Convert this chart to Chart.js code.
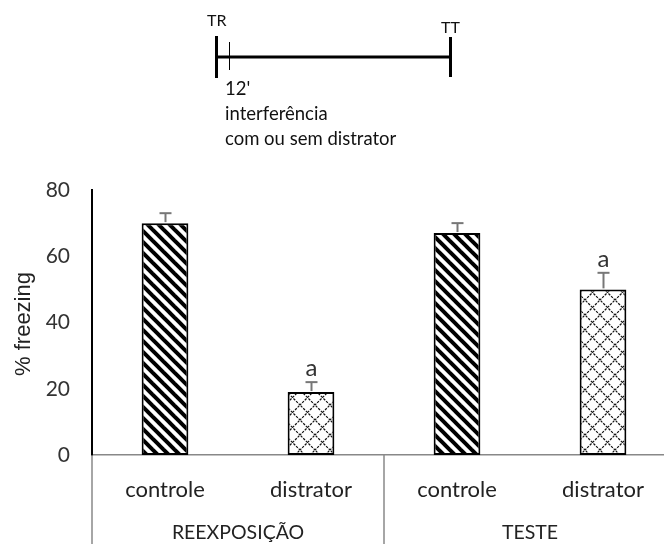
<!DOCTYPE html>
<html>
<head>
<meta charset="utf-8">
<script src="https://cdn.jsdelivr.net/npm/chart.js@4"></script>
<style>
  html, body { margin: 0; padding: 0; background: #fff; overflow: hidden; width: 664px; height: 544px; }
  canvas { display: block; }
</style>
</head>
<body>
<canvas id="c" width="676" height="544"></canvas>
<script>
const categories = ['controle', 'distrator', 'controle', 'distrator'];
const groups = ['REEXPOSIÇÃO', 'TESTE'];
const freezing = [70, 19, 67, 50];
const sem = [3, 3, 3, 5];
const significance = ['', 'a', '', 'a'];
const yTicks = [0, 20, 40, 60, 80];
const patternKinds = ['stripes', 'cross', 'stripes', 'cross'];

const FONT = 'Lato, "Open Sans", sans-serif';

function makeStripes() {
  const s = 11;
  const c = document.createElement('canvas');
  c.width = s; c.height = s;
  const g = c.getContext('2d');
  g.fillStyle = '#fff'; g.fillRect(0, 0, s, s);
  g.strokeStyle = '#000'; g.lineWidth = 4;
  for (let k = -1; k <= 1; k++) {
    g.beginPath(); g.moveTo(k * s - 2, -2); g.lineTo(k * s + s + 2, s + 2); g.stroke();
  }
  return g.createPattern(c, 'repeat');
}
function makeCross() {
  const s = 15;
  const c = document.createElement('canvas');
  c.width = s; c.height = s;
  const g = c.getContext('2d');
  g.fillStyle = '#fff'; g.fillRect(0, 0, s, s);
  g.strokeStyle = '#111'; g.lineWidth = 1.2;
  g.setLineDash([2.5, 1.2]);
  for (let k = -1; k <= 1; k++) {
    g.beginPath(); g.moveTo(k * s - 2, -2); g.lineTo(k * s + s + 2, s + 2); g.stroke();
    g.beginPath(); g.moveTo(k * s + s + 2, -2); g.lineTo(k * s - 2, s + 2); g.stroke();
  }
  return g.createPattern(c, 'repeat');
}
const stripes = makeStripes();
const cross = makeCross();
const fills = patternKinds.map(k => k === 'stripes' ? stripes : cross);

const overlay = {
  id: 'overlay',
  afterDatasetsDraw(chart) {
    const ctx = chart.ctx;
    const ys = chart.scales.y;
    const meta = chart.getDatasetMeta(0);
    ctx.save();
    ctx.strokeStyle = '#777'; ctx.lineWidth = 2;
    meta.data.forEach((bar, i) => {
      const x = Math.round(bar.x) + 0.5;
      const yb = ys.getPixelForValue(freezing[i]);
      const yt = ys.getPixelForValue(freezing[i] + sem[i]);
      ctx.beginPath(); ctx.moveTo(x, yb - 1); ctx.lineTo(x, yt); ctx.stroke();
      ctx.beginPath(); ctx.moveTo(x - 6, yt); ctx.lineTo(x + 6, yt); ctx.stroke();
      if (significance[i]) {
        ctx.fillStyle = '#333';
        ctx.font = '24px ' + FONT;
        ctx.textAlign = 'center'; ctx.textBaseline = 'alphabetic';
        ctx.fillText(significance[i], x, yt - 6);
      }
    });
    ctx.restore();
  },
  afterDraw(chart) {
    const ctx = chart.ctx;
    const ca = chart.chartArea;
    const xs = chart.scales.x;
    const H = chart.height;
    ctx.save();
    ctx.strokeStyle = '#888'; ctx.lineWidth = 1.5;
    const sep = [ca.left, (xs.getPixelForValue(1) + xs.getPixelForValue(2)) / 2, ca.right];
    sep.forEach(x => {
      ctx.beginPath(); ctx.moveTo(Math.round(x), ca.bottom); ctx.lineTo(Math.round(x), H); ctx.stroke();
    });
    ctx.fillStyle = '#222';
    ctx.font = '22px ' + FONT;
    ctx.textAlign = 'center'; ctx.textBaseline = 'middle';
    categories.forEach((c, i) => ctx.fillText(c, xs.getPixelForValue(i), 490));
    ctx.font = '19.5px ' + FONT;
    groups.forEach((g, j) => {
      const cx = (xs.getPixelForValue(2 * j) + xs.getPixelForValue(2 * j + 1)) / 2;
      ctx.fillText(g, cx, 533);
    });
    ctx.save();
    ctx.translate(24, 324);
    ctx.rotate(-Math.PI / 2);
    ctx.font = '22px "Liberation Sans", Arial, sans-serif';
    ctx.fillStyle = '#222';
    ctx.textAlign = 'center'; ctx.textBaseline = 'middle';
    ctx.fillText('% freezing', 0, 0);
    ctx.restore();
    // timeline diagram
    ctx.strokeStyle = '#000';
    ctx.lineWidth = 3;
    ctx.beginPath(); ctx.moveTo(216, 57); ctx.lineTo(451, 57); ctx.stroke();
    ctx.beginPath(); ctx.moveTo(216.5, 36); ctx.lineTo(216.5, 78); ctx.stroke();
    ctx.beginPath(); ctx.moveTo(450.5, 37); ctx.lineTo(450.5, 77); ctx.stroke();
    ctx.lineWidth = 1;
    ctx.beginPath(); ctx.moveTo(229.5, 42); ctx.lineTo(229.5, 70); ctx.stroke();
    ctx.fillStyle = '#111';
    ctx.font = '16px ' + FONT;
    ctx.textAlign = 'left'; ctx.textBaseline = 'middle';
    ctx.fillText('TR', 207, 21);
    ctx.fillText('TT', 441, 28);
    ctx.font = '18.5px ' + FONT;
    ctx.fillText("12'", 225, 89);
    ctx.fillText('interferência', 225, 114);
    ctx.fillText('com ou sem distrator', 225, 139);
    ctx.restore();
  }
};

new Chart(document.getElementById('c'), {
  type: 'bar',
  data: {
    labels: categories,
    datasets: [{
      data: freezing,
      backgroundColor: fills,
      borderColor: '#000',
      borderWidth: 2,
      borderSkipped: false,
      barPercentage: 0.32,
      categoryPercentage: 1
    }]
  },
  options: {
    responsive: false,
    animation: false,
    layout: { padding: { top: 190, bottom: 89, left: 0, right: 0 } },
    plugins: { legend: { display: false }, tooltip: { enabled: false } },
    scales: {
      x: {
        ticks: { display: false },
        grid: { display: false, drawTicks: false },
        border: { display: true, color: '#888', width: 1.5 }
      },
      y: {
        min: 0, max: 80,
        afterBuildTicks(scale) { scale.ticks = yTicks.map(v => ({ value: v })); },
        afterFit(scale) { scale.width = 92; },
        ticks: { padding: 22, color: '#333', font: { family: FONT, size: 21 } },
        grid: { display: false, drawTicks: false },
        border: { display: true, color: '#000', width: 2 }
      }
    }
  },
  plugins: [overlay]
});
</script>
</body>
</html>
